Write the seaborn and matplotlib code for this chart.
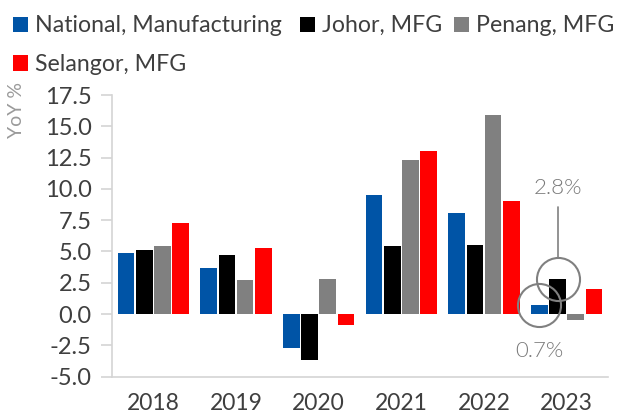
import numpy as np
import pandas as pd
import matplotlib
matplotlib.use("Agg")
import matplotlib.pyplot as plt
from matplotlib.patches import Rectangle
import seaborn as sns

# Manufacturing output growth, year on year (%)
years = ["2018", "2019", "2020", "2021", "2022", "2023"]
series_names = ["National, Manufacturing", "Johor, MFG", "Penang, MFG", "Selangor, MFG"]
national = [4.9, 3.7, -2.7, 9.5, 8.1, 0.7]
johor = [5.1, 4.7, -3.7, 5.4, 5.5, 2.8]
penang = [5.4, 2.7, 2.8, 12.3, 15.9, -0.5]
selangor = [7.3, 5.3, -0.9, 13.0, 9.0, 2.0]
series_colors = ["#0054A6", "#000000", "#808080", "#FF0000"]
y_ticks = [-5.0, -2.5, 0.0, 2.5, 5.0, 7.5, 10.0, 12.5, 15.0, 17.5]

sns.set_theme(style="white")
plt.rcParams["font.family"] = ["Lato", "DejaVu Sans"]

TEXT = "#3F3F3F"
AXIS = "#D4D4D4"
NOTE = "#808080"

df = pd.DataFrame({
    "year": np.repeat(years, len(series_names)),
    "series": series_names * len(years),
    "value": np.ravel(np.column_stack([national, johor, penang, selangor])),
})

fig = plt.figure(figsize=(6.17, 4.16), dpi=100)
ax = fig.add_axes([0.1815, 0.0945, 0.9854 - 0.1815, 0.7716 - 0.0945])

sns.barplot(data=df, x="year", y="value", hue="series", hue_order=series_names,
            palette=series_colors, saturation=1, width=0.88, gap=0.09,
            linewidth=0, legend=False, ax=ax)

ax.set_xlim(-0.5, len(years) - 0.5)
ax.set_ylim(-5.0, 17.5)
ax.set_yticks(y_ticks)
ax.set_yticklabels([f"{t:.1f}" for t in y_ticks])
ax.set_xlabel("")
ax.set_ylabel("")

# category dividers as minor ticks, labels centred on the major ticks
ax.set_xticks(np.arange(-0.5, len(years)), minor=True)
ax.tick_params(axis="x", which="major", length=0, pad=12, labelsize=16.5, labelcolor=TEXT)
ax.tick_params(axis="x", which="minor", length=7.5, width=1.2, color=AXIS, direction="out")
ax.tick_params(axis="y", length=8, width=1.2, color=AXIS, direction="out", pad=6.5,
               labelsize=17, labelcolor=TEXT, left=True)

for side in ["top", "right"]:
    ax.spines[side].set_visible(False)
for side in ["left", "bottom"]:
    ax.spines[side].set_color(AXIS)
    ax.spines[side].set_linewidth(1.2)

fig.text(17 / 617, 1 - 110 / 416, "YoY %", rotation=90, ha="center", va="center",
         fontsize=14, color="#9A9A9A")

# legend: coloured squares followed by the series name
legend_rows = [(32.3, [(12.7, 35), (300, 322), (454, 476)]), (70.7, [(12.7, 35)])]
entries = iter(zip(series_names, series_colors))
for base_px, slots in legend_rows:
    for sq_x, tx_x in slots:
        name, color = next(entries)
        fig.patches.append(Rectangle((sq_x / 617, 1 - base_px / 416), 15 / 617, 15.5 / 416,
                                     transform=fig.transFigure, facecolor=color,
                                     edgecolor="none"))
        fig.text(tx_x / 617, 1 - base_px / 416, name, ha="left", va="baseline",
                 fontsize=16.7, color=TEXT)

# call-outs for the latest national and Johor readings
last = len(years) - 1
nat_bar = ax.containers[0][last]
joh_bar = ax.containers[1][last]
nat_x = nat_bar.get_x() + nat_bar.get_width() / 2
joh_x = joh_bar.get_x() + joh_bar.get_width() / 2
nat_v = national[last]
joh_v = johor[last]

ax.plot([nat_x, joh_x], [nat_v, joh_v], linestyle="none", marker="o", markersize=31,
        markerfacecolor="none", markeredgecolor=NOTE, markeredgewidth=1.5,
        clip_on=False, zorder=5)
ax.plot([joh_x, joh_x], [joh_v + 1.75, 8.55], color=NOTE, linewidth=1.2, zorder=5)
ax.text(joh_x, 10.1, f"{joh_v:.1f}%", ha="center", va="center", fontsize=16,
        color="#7A7A7A", fontweight=300)
ax.text(nat_x, -2.95, f"{nat_v:.1f}%", ha="center", va="center", fontsize=16,
        color="#7A7A7A", fontweight=300)

fig.savefig("out.png", dpi=100)
